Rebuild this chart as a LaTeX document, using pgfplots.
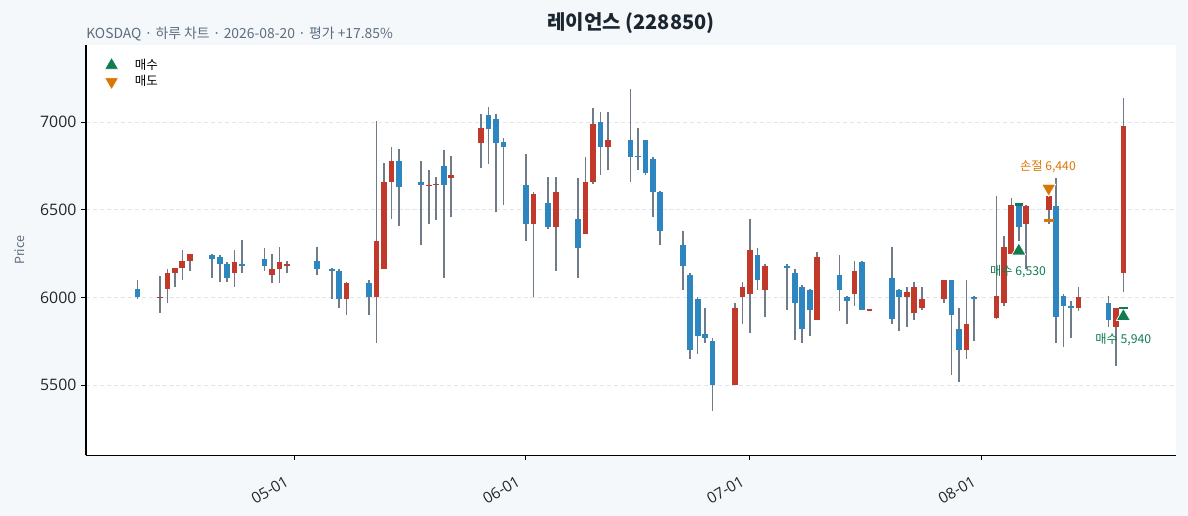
\documentclass[border=0pt]{standalone}
\usepackage{fontspec}
\setmainfont{Noto Sans CJK KR}
\newfontfamily\tickfont{Open Sans}
\usepackage{pgfplots}
\usepackage{pgfplotstable}
\pgfplotsset{compat=1.18}

\definecolor{pagebg}{RGB}{245,248,251}
\definecolor{upc}{RGB}{192,57,43}
\definecolor{downc}{RGB}{46,134,193}
\definecolor{wick}{RGB}{112,123,138}
\definecolor{buyc}{RGB}{16,124,80}
\definecolor{sellc}{RGB}{217,119,6}
\definecolor{titlec}{RGB}{27,38,49}
\definecolor{subc}{RGB}{93,109,126}
\definecolor{gridc}{RGB}{226,229,233}

% day = days after 2026-05-01
\pgfplotstableread{
d O H L C
-18 6000 6120 5910 6000
-17 6050 6160 5970 6140
-16 6140 6170 6060 6170
-15 6170 6270 6100 6210
-14 6210 6250 6150 6250
-8 6140 6270 6060 6200
-3 6130 6250 6080 6160
-2 6160 6290 6080 6200
-1 6180 6210 6140 6190
7 5990 6090 5900 6080
11 6000 7010 5740 6320
12 6160 6770 6160 6660
13 6660 6860 6450 6780
18 6640 6730 6420 6640
19 6640 6690 6440 6650
21 6680 6810 6460 6700
25 6880 7050 6740 6970
32 6420 6600 6000 6590
35 6400 6690 6150 6600
39 6360 6800 6360 6660
40 6660 7080 6650 6990
42 6860 7060 6730 6900
59 5500 5970 5500 5940
60 6000 6090 5850 6060
61 6020 6450 5800 6270
63 6040 6190 5890 6180
70 5870 6260 5870 6230
75 6020 6210 5950 6150
77 5930 5930 5930 5930
82 6000 6060 5830 6030
83 5910 6090 5870 6060
84 5940 6060 5930 5990
87 5990 6100 5970 6100
90 5700 6100 5650 5850
94 5880 6580 5880 6010
95 5970 6350 5950 6290
96 6250 6570 6250 6530
98 6420 6530 6160 6520
101 6500 6580 6420 6580
105 5940 6060 5920 6000
110 5830 5940 5610 5940
111 6140 7140 6030 6980
}\up

\pgfplotstableread{
d O H L C
-21 6050 6100 5990 6000
-11 6240 6250 6110 6220
-10 6230 6240 6090 6190
-9 6190 6200 6090 6110
-7 6190 6330 6140 6180
-4 6220 6280 6150 6180
3 6210 6290 6130 6160
5 6160 6170 5990 6150
6 6150 6160 5940 5990
10 6080 6100 5900 6000
14 6780 6850 6410 6630
17 6660 6780 6300 6640
20 6750 6840 6110 6640
26 7040 7090 6760 6960
27 7020 7050 6490 6880
28 6890 6910 6530 6860
31 6640 6820 6320 6420
34 6540 6690 6390 6400
38 6450 6680 6110 6280
41 7000 7060 6700 6860
45 6900 7190 6660 6800
46 6810 6970 6730 6800
47 6900 6900 6700 6710
48 6790 6800 6460 6600
49 6600 6610 6300 6380
52 6300 6380 6040 6180
53 6130 6140 5650 5700
54 5990 6000 5680 5780
55 5790 5940 5740 5770
56 5750 5770 5350 5500
62 6240 6280 6040 6100
66 6180 6190 5930 6170
67 6140 6160 5760 5970
68 6060 6070 5740 5820
69 6040 6050 5780 5930
73 6130 6240 5920 6040
74 6000 6010 5850 5980
76 6200 6210 5930 5930
80 6110 6290 5850 5880
81 6040 6050 5810 6000
88 6100 6100 5560 5900
89 5820 5940 5520 5700
91 6000 6010 5750 5990
97 6530 6530 6320 6400
102 6520 6680 5740 5890
103 6010 6020 5720 5950
104 5950 5980 5770 5940
109 5970 6010 5830 5870
}\down

\pgfplotsset{
  wickplot/.style={forget plot, draw=none, mark=none,
    error bars/.cd, y dir=both, y explicit, error mark=none,
    error bar style={line width=1.2pt, draw=wick}},
  bodyplot/.style={forget plot, draw=none, mark=none,
    error bars/.cd, y dir=both, y explicit, error mark=none,
    error bar style={line width=4.1pt, draw=#1}},
}

\begin{document}
\begin{tikzpicture}
\fill[pagebg] (-61.92pt,-43.7pt) rectangle (793.44pt,327.82pt);
\begin{axis}[
  at={(0,0)}, anchor=south west,
  width=784.8pt, height=295.4pt, scale only axis,
  xmin=-27.9, xmax=118.05, ymin=5099, ymax=7441,
  axis background/.style={fill=white},
  axis x line*=bottom, axis y line*=left,
  axis line style={black, line width=0.8pt, -},
  tick align=outside, major tick length=3.4pt,
  tick style={black, line width=0.7pt},
  xtick={0,31,61,92}, xticklabels={05-01,06-01,07-01,08-01},
  x tick label style={xshift=-6pt, yshift=-6pt, rotate=30, anchor=north east, font=\tickfont\fontsize{11}{13}\selectfont, text=black!85},
  ytick={5500,6000,6500,7000},
  y tick label style={font=\tickfont\fontsize{11.4}{13}\selectfont, text=black!85},
  /pgf/number format/assume math mode=true,
  /pgf/number format/1000 sep={},
  scaled y ticks=false,
  ymajorgrids, grid style={gridc, dash pattern=on 3pt off 2pt, line width=0.6pt},
  ylabel={Price},
  every axis y label/.style={at={(axis description cs:-0.0606,0.5)}, rotate=90, anchor=center, font=\fontsize{9}{11}\selectfont, text=subc},
  legend style={at={(axis description cs:0.0083,0.98)}, anchor=north west, draw=none, fill=none,
    font=\fontsize{9}{11}\selectfont, row sep=-1pt},
  legend image code/.code={\path (0pt,0pt) (23pt,0pt); \draw[#1] plot coordinates {(8.5pt,0pt)};},
  legend cell align=left,
  clip=false,
]
\addplot[wickplot] table[x=d, y expr={(\thisrow{H}+\thisrow{L})/2}, y error expr={(\thisrow{H}-\thisrow{L})/2}] {\up};
\addplot[wickplot] table[x=d, y expr={(\thisrow{H}+\thisrow{L})/2}, y error expr={(\thisrow{H}-\thisrow{L})/2}] {\down};
\addplot[bodyplot=upc] table[x=d, y expr={(\thisrow{O}+\thisrow{C})/2}, y error expr={max(abs(\thisrow{C}-\thisrow{O})/2,4)}] {\up};
\addplot[bodyplot=downc] table[x=d, y expr={(\thisrow{O}+\thisrow{C})/2}, y error expr={max(abs(\thisrow{C}-\thisrow{O})/2,4)}] {\down};

\addplot[only marks, mark=triangle*, mark size=5.8pt, mark options={fill=buyc, draw=white, line width=0.5pt}] coordinates {(97,6266) (111,5892)};
\addlegendentry{매수}
\addplot[only marks, mark=triangle*, mark size=5.8pt, mark options={fill=sellc, draw=white, line width=0.5pt, rotate=180}] coordinates {(101,6623)};
\addlegendentry{매도}

\addplot[forget plot, only marks, mark=-, mark size=3pt, mark options={draw=buyc, line width=2pt}] coordinates {(97,6530) (111,5940)};
\addplot[forget plot, only marks, mark=-, mark size=3.5pt, mark options={draw=sellc, line width=2pt}] coordinates {(101,6440)};

\node[font=\fontsize{8.8}{10}\selectfont, text=buyc] at (axis cs:96.9,6147) {매수 6,530};
\node[font=\fontsize{8.8}{10}\selectfont, text=sellc] at (axis cs:100.9,6747) {손절 6,440};
\node[font=\fontsize{8.8}{10}\selectfont, text=buyc] at (axis cs:111,5761) {매수 5,940};
\end{axis}
\node[font=\bfseries\fontsize{14.4}{16}\selectfont, text=titlec] at (392.4pt,311.5pt) {레이언스 (228850)};
\node[font=\fontsize{10}{12}\selectfont, text=subc, anchor=west, inner xsep=0pt] at (0pt,303.6pt) {KOSDAQ · 하루 차트 · 2026-08-20 · 평가 +17.85\%};
\pgfresetboundingbox
\path[use as bounding box] (-61.92pt,-43.7pt) rectangle (793.44pt,327.82pt);
\end{tikzpicture}
\end{document}
